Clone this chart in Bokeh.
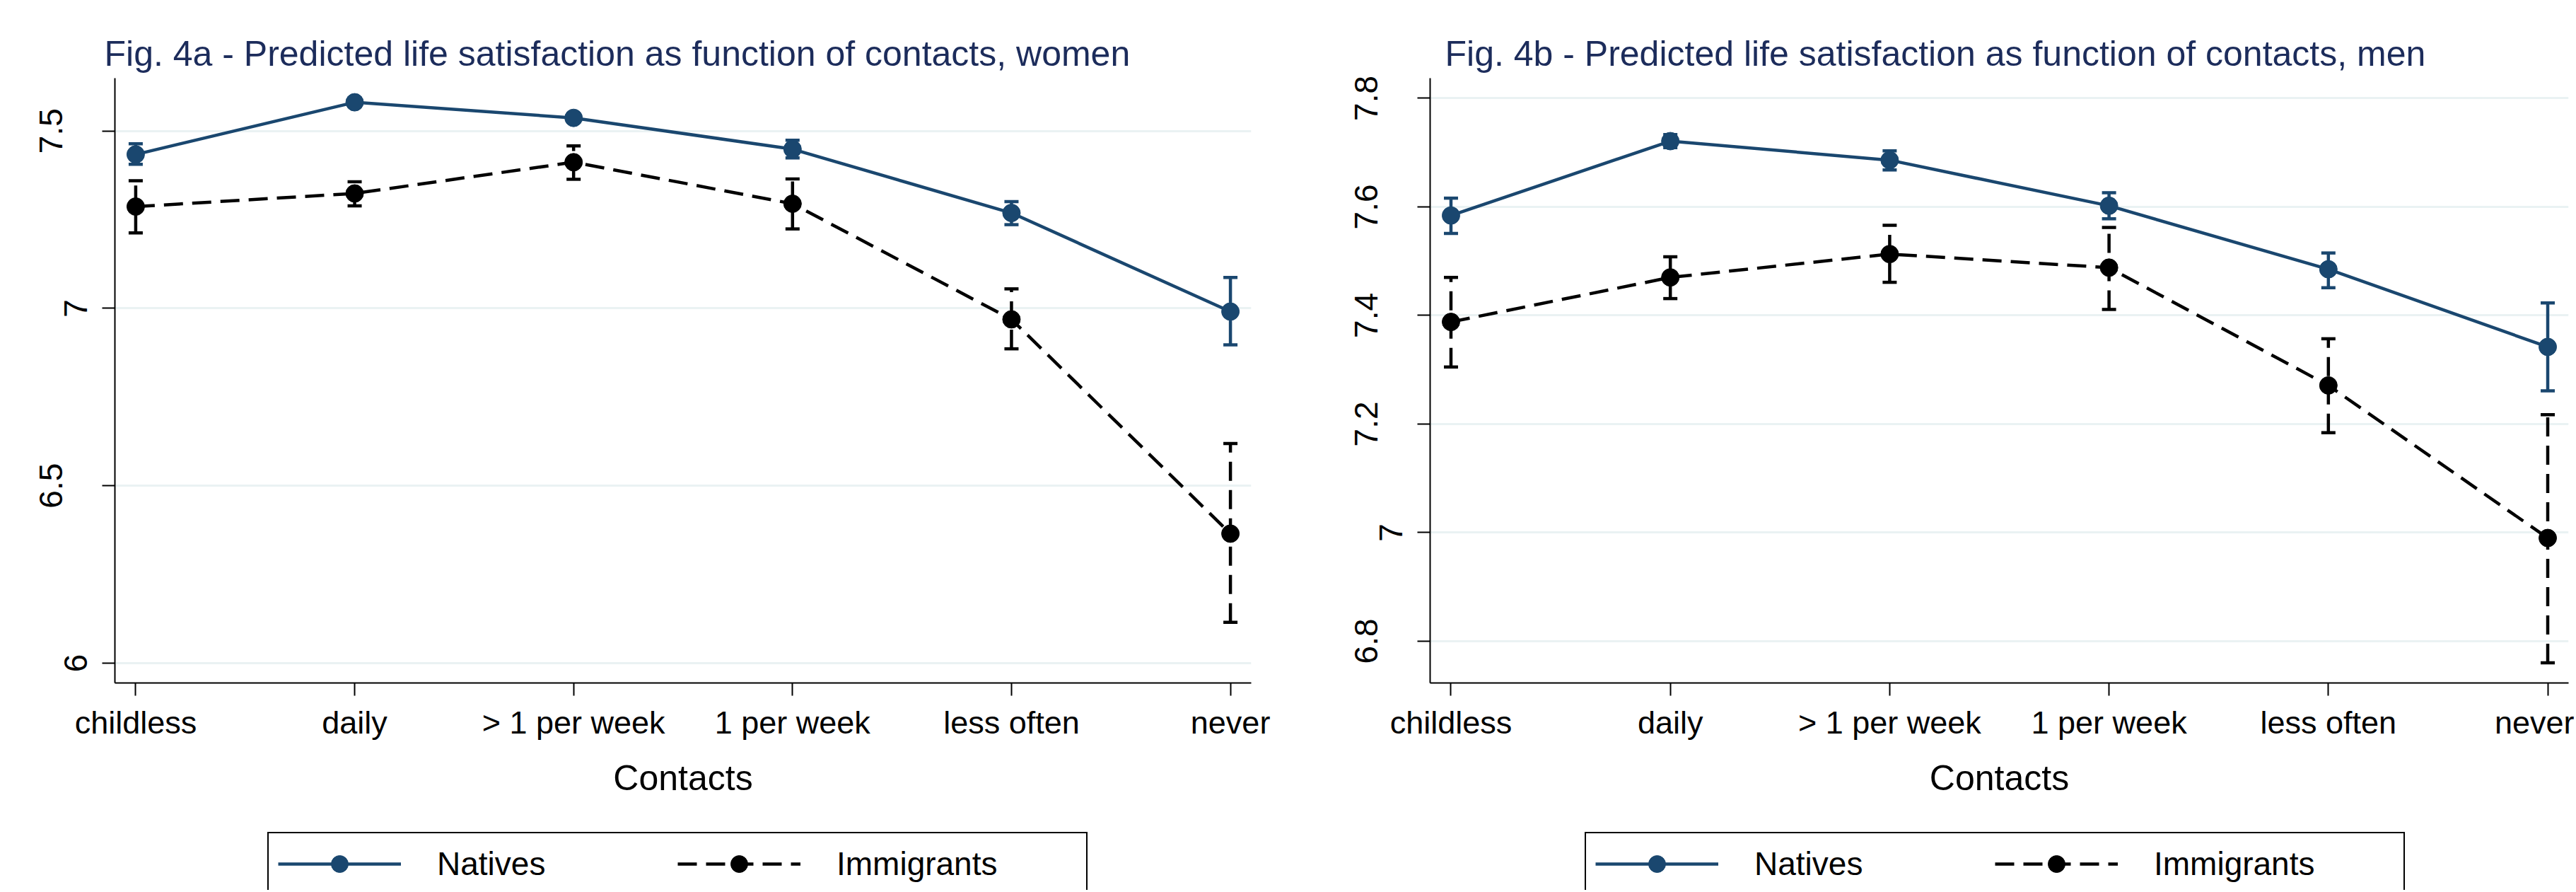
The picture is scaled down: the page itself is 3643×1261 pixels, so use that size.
from bokeh.plotting import figure
from bokeh.models import (ColumnDataSource, Whisker, TeeHead, FixedTicker, Range1d,
                          NumeralTickFormatter, Legend, LegendItem, LinearAxis)
from bokeh.layouts import row, column
from bokeh.embed import file_html
from bokeh.resources import INLINE

# ---------------- data ----------------
categories = ["childless", "daily", "> 1 per week", "1 per week", "less often", "never"]

women_natives    = [7.434, 7.581, 7.537, 7.449, 7.269, 6.991]
women_natives_lo = [7.406, 7.569, 7.525, 7.424, 7.236, 6.897]
women_natives_hi = [7.464, 7.593, 7.549, 7.474, 7.301, 7.087]
women_immig      = [7.287, 7.324, 7.412, 7.295, 6.969, 6.365]
women_immig_lo   = [7.213, 7.289, 7.364, 7.224, 6.886, 6.115]
women_immig_hi   = [7.360, 7.357, 7.458, 7.365, 7.055, 6.619]

men_natives    = [7.584, 7.721, 7.686, 7.602, 7.485, 7.342]
men_natives_lo = [7.551, 7.709, 7.668, 7.578, 7.451, 7.261]
men_natives_hi = [7.616, 7.733, 7.703, 7.626, 7.515, 7.423]
men_immig      = [7.388, 7.470, 7.513, 7.488, 7.271, 6.990]
men_immig_lo   = [7.305, 7.431, 7.461, 7.411, 7.184, 6.760]
men_immig_hi   = [7.470, 7.508, 7.566, 7.562, 7.357, 7.217]

women_yticks = [6.0, 6.5, 7.0, 7.5]
men_yticks = [6.8, 7.0, 7.2, 7.4, 7.6, 7.8]

series_labels = ["Natives", "Immigrants"]
x_title = "Contacts"
title_women = "Fig. 4a - Predicted life satisfaction as function of contacts, women"
title_men = "Fig. 4b - Predicted life satisfaction as function of contacts, men"

# ---------------- style ----------------
NAVY = "#1a476f"
BLACK = "#000000"
TITLE_COLOR = "#1c2c5b"
GRID = "#eaf2f3"
FONT = "Liberation Sans"
DASH = "27 13"
LW = 4.5
MS = 25
MAIN_H = 1170
LEG_H = 88


def style_axis(ax):
    ax.axis_line_color = BLACK
    ax.axis_line_width = 2
    ax.major_tick_line_color = BLACK
    ax.major_tick_line_width = 2
    ax.major_tick_out = 18
    ax.major_tick_in = 0
    ax.minor_tick_line_color = None
    ax.major_label_text_font = FONT
    ax.major_label_text_color = BLACK


def make_panel(title, nat, nat_lo, nat_hi, imm, imm_lo, imm_hi, yticks, yrange,
               width, mb_left, mb_right, title_offset, legend_x):
    xs = list(range(len(categories)))
    p = figure(width=width, height=MAIN_H, output_backend="svg", toolbar_location=None,
               x_range=Range1d(-0.095, 5.095), y_range=Range1d(*yrange),
               min_border_left=mb_left, min_border_right=mb_right,
               min_border_top=110, min_border_bottom=MAIN_H - 965,
               background_fill_color="white", border_fill_color="white",
               outline_line_color=None)

    # title
    p.title.text = title
    p.title.text_font = FONT
    p.title.text_font_size = "50px"
    p.title.text_font_style = "normal"
    p.title.text_color = TITLE_COLOR
    p.title.align = "left"
    p.title.offset = title_offset
    p.title.standoff = 14

    # error bars
    for lo, hi, col, dash in [(nat_lo, nat_hi, NAVY, "solid"), (imm_lo, imm_hi, BLACK, DASH)]:
        src = ColumnDataSource(dict(x=xs, lo=lo, hi=hi))
        w = Whisker(source=src, base="x", lower="lo", upper="hi", dimension="height",
                    line_color=col, line_width=LW, line_dash=dash,
                    upper_head=TeeHead(size=20, line_color=col, line_width=LW),
                    lower_head=TeeHead(size=20, line_color=col, line_width=LW))
        p.add_layout(w)

    p.line(xs, nat, line_color=NAVY, line_width=LW)
    p.scatter(xs, nat, size=MS, fill_color=NAVY, line_color=NAVY, line_width=1)
    p.line(xs, imm, line_color=BLACK, line_width=LW, line_dash=DASH)
    p.scatter(xs, imm, size=MS, fill_color=BLACK, line_color=BLACK, line_width=1)

    # x axis
    style_axis(p.xaxis[0])
    p.xaxis.ticker = FixedTicker(ticks=xs)
    p.xaxis.major_label_overrides = {i: c for i, c in enumerate(categories)}
    p.xaxis.major_label_text_font_size = "45px"
    p.xaxis.major_label_standoff = 12
    p.xaxis.axis_label = x_title
    p.xaxis.axis_label_text_font = FONT
    p.xaxis.axis_label_text_font_size = "50px"
    p.xaxis.axis_label_text_font_style = "normal"
    p.xaxis.axis_label_text_color = BLACK
    p.xaxis.axis_label_standoff = 22

    # y axis: ticks at all values; whole-number labels sit close to the axis,
    # decimal labels further out (as in the original rendering)
    dec_ticks = [t for t in yticks if not float(t).is_integer()]
    yax = p.yaxis[0]
    style_axis(yax)
    yax.ticker = FixedTicker(ticks=yticks)
    yax.formatter = NumeralTickFormatter(format="0.[0]")
    yax.major_label_overrides = {t: "" for t in dec_ticks}
    yax.major_label_orientation = "vertical"
    yax.major_label_text_font_size = "46px"
    yax.major_label_standoff = 21

    yax2 = LinearAxis(ticker=FixedTicker(ticks=dec_ticks),
                      formatter=NumeralTickFormatter(format="0.[0]"))
    yax2.axis_line_color = None
    yax2.major_tick_line_color = None
    yax2.major_tick_out = 0
    yax2.major_tick_in = 0
    yax2.minor_tick_line_color = None
    yax2.major_label_text_font = FONT
    yax2.major_label_text_color = BLACK
    yax2.major_label_orientation = "vertical"
    yax2.major_label_text_font_size = "46px"
    yax2.major_label_standoff = 0
    p.add_layout(yax2, "left")

    p.xgrid.visible = False
    p.ygrid.ticker = FixedTicker(ticks=yticks)
    p.ygrid.grid_line_color = GRID
    p.ygrid.grid_line_width = 3

    # legend strip (separate figure below the plot)
    q = figure(width=width, height=LEG_H, output_backend="svg", toolbar_location=None,
               x_range=Range1d(0, 1), y_range=Range1d(0, 1),
               x_axis_location=None, y_axis_location=None,
               min_border_left=0, min_border_right=0, min_border_top=0, min_border_bottom=0,
               background_fill_color="white", border_fill_color="white",
               outline_line_color=None)
    q.xgrid.visible = False
    q.ygrid.visible = False
    # legend proxies (data lie outside this strip's ranges, so only the keys show)
    ln = q.line(xs, nat, line_color=NAVY, line_width=LW)
    sn = q.scatter(xs, nat, size=MS, fill_color=NAVY, line_color=NAVY, line_width=1)
    li = q.line(xs, imm, line_color=BLACK, line_width=LW, line_dash=DASH)
    si = q.scatter(xs, imm, size=MS, fill_color=BLACK, line_color=BLACK, line_width=1)

    legend = Legend(items=[LegendItem(label=series_labels[0], renderers=[ln, sn]),
                           LegendItem(label=series_labels[1], renderers=[li, si])],
                    orientation="horizontal", location=(legend_x, -8),
                    padding=13, spacing=0, margin=0,
                    glyph_width=174, glyph_height=60, label_standoff=51, label_width=340,
                    border_line_color=BLACK, border_line_width=2, border_line_alpha=1.0,
                    background_fill_color="white", background_fill_alpha=1.0,
                    label_text_font=FONT, label_text_font_size="46px",
                    label_text_color=BLACK)
    q.add_layout(legend)
    return column(p, q, spacing=0)


p1 = make_panel(title_women, women_natives, women_natives_lo, women_natives_hi,
                women_immig, women_immig_lo, women_immig_hi, women_yticks,
                (5.944, 7.649), 1816, 162, 47, -15, 216)
p2 = make_panel(title_men, men_natives, men_natives_lo, men_natives_hi,
                men_immig, men_immig_lo, men_immig_hi, men_yticks,
                (6.723, 7.837), 1799, 181, 8, 21, 219)

layout = row(p1, p2, spacing=25)
open("out.html", "w").write(file_html(layout, INLINE, title="Fig. 4"))
